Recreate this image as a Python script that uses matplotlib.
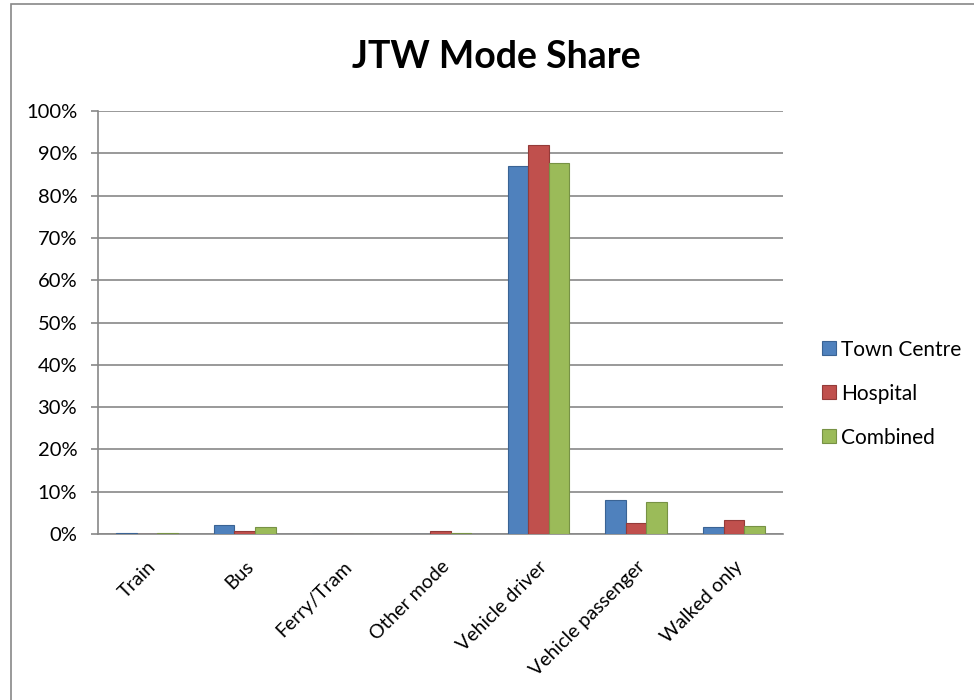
import matplotlib
matplotlib.use("Agg")
from matplotlib import pyplot as plt
from matplotlib.patches import Rectangle
import numpy as np

categories = ['Train', 'Bus', 'Ferry/Tram', 'Other mode', 'Vehicle driver',
              'Vehicle passenger', 'Walked only']
town_centre = [0.3, 2.1, 0.0, 0.0, 87.0, 8.0, 1.6]
hospital = [0.0, 0.65, 0.0, 0.65, 92.0, 2.6, 3.4]
combined = [0.3, 1.7, 0.0, 0.2, 87.6, 7.5, 1.9]
series_names = ['Town Centre', 'Hospital', 'Combined']

colors = ['#4F81BD', '#C0504D', '#9BBB59']
edges = ['#3A6394', '#943B39', '#779245']

plt.rcParams['font.family'] = ['Lato', 'DejaVu Sans']

fig = plt.figure(figsize=(9.74, 7.0), dpi=100)
ax = fig.add_axes([0.1006, 0.237, 0.7033, 0.6044])

x = np.arange(len(categories))
w = 0.21
for i, (vals, name) in enumerate(zip([town_centre, hospital, combined], series_names)):
    ax.bar(x + (i - 1) * w, vals, width=w, color=colors[i], edgecolor=edges[i],
           linewidth=0.8, label=name, zorder=3)

ax.set_xlim(-0.5, len(categories) - 0.5)
ax.set_ylim(0, 100)
ax.set_yticks(range(0, 101, 10))
ax.set_yticklabels([f'{v}%' for v in range(0, 101, 10)], fontsize=14.5)
ax.set_xticks(x)
ax.set_xticklabels(categories, rotation=45, ha='right', rotation_mode='anchor', fontsize=14)
ax.tick_params(axis='x', length=0, pad=17)
ax.tick_params(axis='y', length=5, width=1.2, color='#888888', pad=10)

ax.grid(axis='y', color='#888888', linewidth=1.2, zorder=0)
for s in ['top', 'right']:
    ax.spines[s].set_visible(False)
for s in ['left', 'bottom']:
    ax.spines[s].set_color('#888888')
    ax.spines[s].set_linewidth(1.2)

fig.text(0.51, 0.918, 'JTW Mode Share', ha='center', va='center',
         fontsize=27, fontweight='bold')

ax.legend(loc='center left', bbox_to_anchor=(1.03, 0.332), frameon=False,
          fontsize=15, handlelength=0.65, handleheight=0.65, handletextpad=0.25,
          labelspacing=1.15)

fig.patches.append(Rectangle((0.011, -0.01), 1.0, 1.004, transform=fig.transFigure,
                             fill=False, edgecolor='#888888', linewidth=1.2))

fig.savefig('out.png', dpi=100)
